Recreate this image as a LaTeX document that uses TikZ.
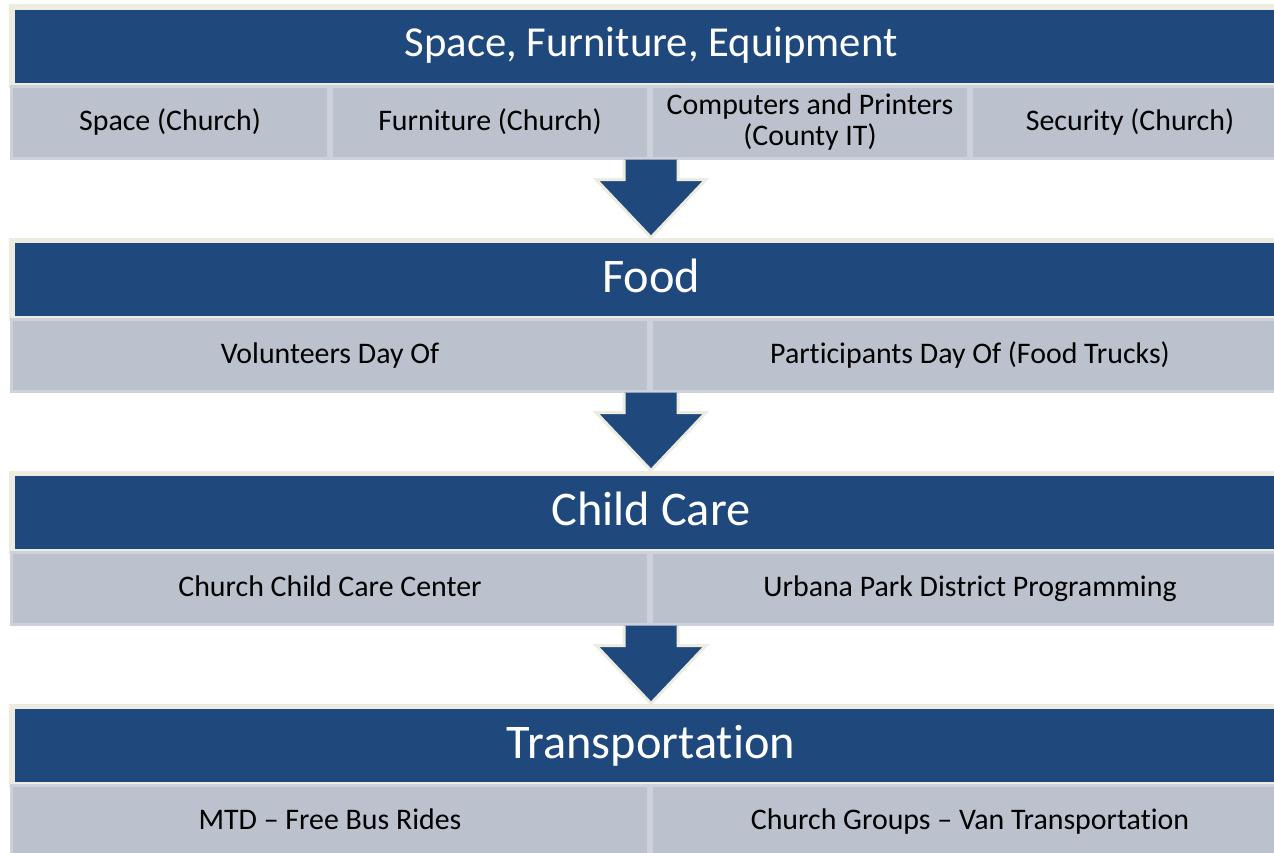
\documentclass[tikz,border=0pt]{standalone}
\usepackage{fontspec}
\setmainfont[Ligatures=NoCommon]{Carlito}
\usepackage{tikz}
\usetikzlibrary{calc, positioning}
\definecolor{hblue}{RGB}{31,73,125}
\definecolor{cream}{RGB}{238,236,225}
\definecolor{cellgray}{RGB}{188,193,206}
\definecolor{celledge}{RGB}{205,209,219}
\tikzstyle{hdr} = [fill=hblue, draw=cream, line width=0.1cm, text=white, inner sep=0pt, minimum width=25.56cm, minimum height=1.56cm, text height=18pt, text depth=2.2pt, font=\fontsize{27.5}{30}\selectfont]
\tikzstyle{cell} = [fill=cellgray, draw=celledge, line width=0.06cm, text=black, inner sep=0pt, minimum height=1.44cm, align=center, font=\fontsize{17}{17.6}\selectfont]
\tikzstyle{oneline} = [text height=11.5pt, text depth=1.9pt]
\tikzstyle{quarter} = [cell, minimum width=6.34cm]
\tikzstyle{half} = [cell, oneline, minimum width=12.74cm]
\tikzstyle{blockarrow} = [fill=hblue, draw=cream, line width=0.06cm, line join=miter]

\begin{document}
\begin{tikzpicture}
\useasboundingbox (0,0) rectangle (25.48,-17.06);
\clip (0,0) rectangle (25.48,-17.06);

\node [hdr, font=\fontsize{24.3}{27}\selectfont, text height=15pt, text depth=2.5pt] (h1) at (13.02,-0.92) {Space, Furniture, Equipment};
\node [quarter, oneline] (r1a) at (3.4,-2.44) {Space (Church)};
\node [quarter, oneline] (r1b) at (9.8,-2.44) {Furniture (Church)};
\node [quarter] (r1c) at (16.2,-2.44) {Computers and Printers\\(County IT)};
\node [quarter, oneline] (r1d) at (22.6,-2.44) {Security (Church)};

\node [hdr] (h2) at (13.02,-5.58) {Food};
\node [half] (r2a) at (6.6,-7.10) {Volunteers Day Of};
\node [half] (r2b) at (19.4,-7.10) {Participants Day Of (Food Trucks)};

\node [hdr] (h3) at (13.02,-10.24) {Child Care};
\node [half] (r3a) at (6.6,-11.76) {Church Child Care Center};
\node [half] (r3b) at (19.4,-11.76) {Urbana Park District Programming};

\node [hdr] (h4) at (13.02,-14.90) {Transportation};
\node [half] (r4a) at (6.6,-16.42) {MTD -- Free Bus Rides};
\node [half] (r4b) at (19.4,-16.42) {Church Groups -- Van Transportation};

\foreach \a/\b in {r1a/h2, r2a/h3, r3a/h4}{
  \coordinate (s) at (\b.north |- \a.south);
  \coordinate (t) at (\b.north);
  \draw [blockarrow] ($(s)+(-0.54,0)$) -- ($(t)+(-0.54,1.16)$) -- ($(t)+(-1.1,1.16)$)
    -- (t) -- ($(t)+(1.1,1.16)$) -- ($(t)+(0.54,1.16)$) -- ($(s)+(0.54,0)$);
}

\end{tikzpicture}
\end{document}
